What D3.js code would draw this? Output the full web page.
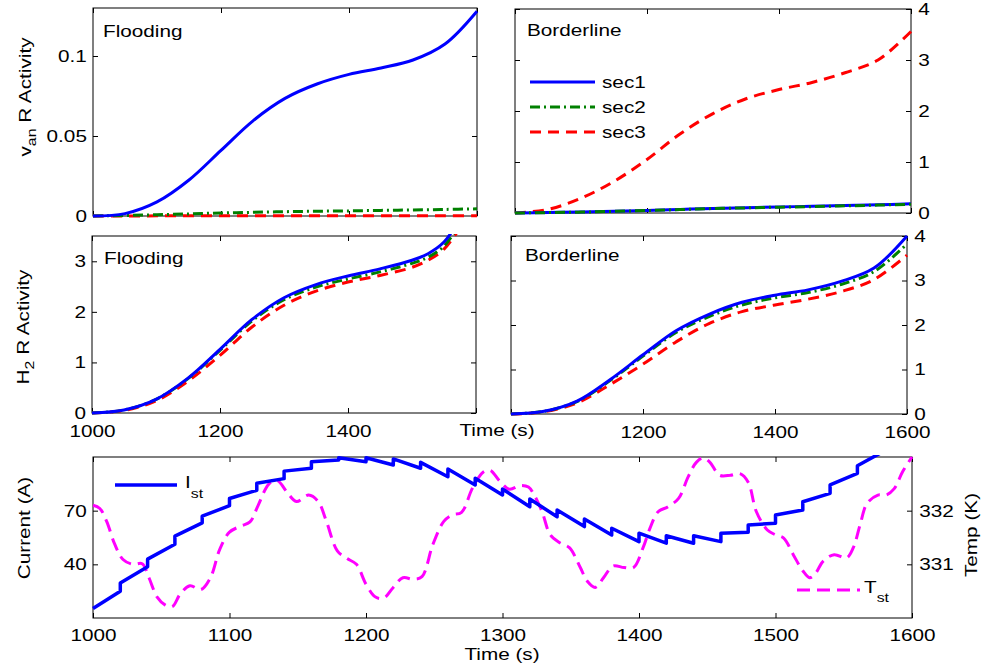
<!DOCTYPE html>
<html>
<head>
<meta charset="utf-8">
<script src="https://cdn.jsdelivr.net/npm/d3@7"></script>
<style>
  body { margin: 0; background: #fff; }
  svg text { font-family: "Liberation Sans", Arial, Helvetica, sans-serif; fill: #000; }
</style>
</head>
<body>
<svg id="chart" width="988" height="670"></svg>
<script>
// ---------- data ----------
// receptor activity, sampled every 50 s
const actTime = [1000, 1050, 1100, 1150, 1200, 1250, 1300, 1350, 1400, 1450, 1500, 1550, 1600];

// vanR activity, flooding
const floodVanSec1 = [0, 0.0015, 0.0088, 0.0225, 0.041, 0.0595, 0.0735, 0.0825, 0.0885, 0.0925, 0.0975, 0.1075, 0.128];
const floodVanSec2 = [0, 0.0003, 0.0008, 0.0013, 0.0019, 0.0023, 0.0027, 0.0030, 0.0032, 0.0035, 0.0038, 0.0041, 0.0045];
const floodVanSec3 = [0, 0, 0.0001, 0.0001, 0.0001, 0.0001, 0.0002, 0.0002, 0.0002, 0.0002, 0.0002, 0.0002, 0.0002];

// vanR activity, borderline
const borderVanSec1 = [0, 0.01, 0.02, 0.035, 0.05, 0.07, 0.09, 0.105, 0.12, 0.13, 0.145, 0.16, 0.18];
const borderVanSec2 = [0, 0.008, 0.018, 0.032, 0.048, 0.067, 0.087, 0.10, 0.115, 0.125, 0.14, 0.155, 0.17];
const borderVanSec3 = [0, 0.07, 0.29, 0.62, 1.05, 1.55, 1.95, 2.24, 2.42, 2.56, 2.75, 3.0, 3.56];

// H2R activity, flooding (run ends past the top of the axis)
const floodH2Time = [1000, 1050, 1100, 1150, 1200, 1250, 1300, 1350, 1400, 1450, 1500, 1525, 1550, 1575];
const floodH2Sec1 = [0, 0.06, 0.27, 0.69, 1.26, 1.85, 2.28, 2.54, 2.71, 2.85, 3.02, 3.15, 3.38, 3.85];
const floodH2Sec2 = [0, 0.06, 0.27, 0.68, 1.24, 1.82, 2.24, 2.49, 2.65, 2.79, 2.96, 3.08, 3.30, 3.75];
const floodH2Sec3 = [0, 0.05, 0.24, 0.63, 1.14, 1.70, 2.13, 2.41, 2.59, 2.72, 2.88, 3.02, 3.24, 3.66];

// H2R activity, borderline
const borderH2Sec1 = [0, 0.06, 0.29, 0.77, 1.33, 1.87, 2.24, 2.51, 2.67, 2.79, 2.98, 3.28, 4.0];
const borderH2Sec2 = [0, 0.06, 0.28, 0.75, 1.30, 1.83, 2.19, 2.45, 2.61, 2.73, 2.91, 3.20, 3.82];
const borderH2Sec3 = [0, 0.05, 0.25, 0.66, 1.12, 1.62, 2.03, 2.30, 2.45, 2.58, 2.75, 3.02, 3.57];

const seriesNames = ["sec1", "sec2", "sec3"];

// stack current: one linear segment per 20 s control step
const stepTime = [1000, 1020, 1040, 1060, 1080, 1100, 1120, 1140, 1160, 1180, 1200, 1220, 1240, 1260, 1280,
                  1300, 1320, 1340, 1360, 1380, 1400, 1420, 1440, 1460, 1480, 1500, 1520, 1540, 1560, 1580];
const istStart = [15.3, 29.5, 42.9, 55.8, 66.9, 76.8, 85.3, 92.1, 97.4, 99.6, 99.6, 98.9, 97.0, 93.3, 88.1,
                  82.1, 76.5, 70.4, 65.4, 60.2, 57.4, 56.0, 56.0, 57.4, 62.0, 67.6, 75.0, 84.4, 95.1];
const istEnd   = [24.9, 38.7, 51.2, 63.2, 72.8, 81.4, 87.9, 93.7, 98.3, 97.4, 95.5, 93.7, 89.0, 84.4, 78.8,
                  72.2, 66.6, 61.1, 56.4, 52.7, 51.8, 51.8, 52.7, 58.0, 63.0, 70.4, 79.7, 90.9, 103.5];

// stack temperature
const tempTime = [1000, 1005, 1010, 1016, 1022, 1029, 1036, 1041, 1047, 1053, 1058, 1064, 1071, 1079, 1086,
                  1093, 1100, 1108, 1115, 1121, 1129, 1135, 1142, 1149, 1158, 1165, 1171, 1179, 1186, 1193,
                  1200, 1207, 1213, 1220, 1227, 1235, 1241, 1249, 1257, 1263, 1270, 1278, 1286, 1291, 1298,
                  1305, 1313, 1319, 1323, 1329, 1335, 1342, 1349, 1357, 1362, 1368, 1374, 1381, 1389, 1396,
                  1403, 1408, 1414, 1421, 1429, 1436, 1442, 1447, 1452, 1459, 1467, 1474, 1480, 1486, 1494,
                  1500, 1506, 1513, 1520, 1525, 1529, 1535, 1543, 1552, 1557, 1562, 1567, 1575, 1581, 1587,
                  1593, 1600];
const tempK = [332.10, 332.04, 331.80, 331.37, 331.09, 331.00, 331.01, 330.75, 330.39, 330.24, 330.21, 330.45, 330.60, 330.53, 330.75,
               331.29, 331.60, 331.71, 331.79, 332.10, 332.50, 332.56, 332.35, 332.17, 332.29, 332.17, 331.80, 331.25, 331.11, 331.00,
               330.63, 330.39, 330.37, 330.57, 330.75, 330.72, 330.77, 331.37, 331.80, 331.92, 331.97, 332.42, 332.72, 332.75, 332.55,
               332.40, 332.47, 332.44, 332.30, 331.98, 331.55, 331.40, 331.31, 330.94, 330.69, 330.57, 330.75, 330.97, 330.94, 330.94,
               331.31, 331.67, 331.98, 332.07, 332.23, 332.63, 332.90, 332.98, 332.90, 332.66, 332.66, 332.69, 332.53, 331.98, 331.64,
               331.55, 331.49, 331.18, 330.88, 330.75, 330.82, 331.06, 331.18, 331.12, 331.31, 331.74, 332.13, 332.29, 332.29, 332.41,
               332.72, 333.0];

// tick values
const timeTicks200 = [1000, 1200, 1400, 1600];
const timeTicks100 = [1000, 1100, 1200, 1300, 1400, 1500, 1600];
const vanTicks = [0, 0.05, 0.1];
const actTicks3 = [0, 1, 2, 3];
const actTicks4 = [0, 1, 2, 3, 4];
const currentTicks = [40, 70];
const tempTicks = [331, 332];

// ---------- drawing ----------
const svg = d3.select("#chart");
const FS = 17;          // font size
const SX = 1.22;        // horizontal glyph stretch
const TICK = 5;
const smooth = d3.curveCatmullRom.alpha(0.5);

const styles = {
  sec1: { color: "#0000ff", dash: null },
  sec2: { color: "#008000", dash: "10,4,2,4" },
  sec3: { color: "#ff0000", dash: "11,7" }
};

let clipId = 0;
function makePanel(box, xDomain, yDomain) {
  const x = d3.scaleLinear().domain(xDomain).range([box.left, box.right]);
  const y = d3.scaleLinear().domain(yDomain).range([box.bottom, box.top]);
  const g = svg.append("g");
  const id = "clip" + (clipId++);
  svg.append("clipPath").attr("id", id).append("rect")
    .attr("x", box.left - 2).attr("y", box.top - 2)
    .attr("width", box.right - box.left + 4).attr("height", box.bottom - box.top + 4);
  g.append("rect")
    .attr("x", box.left).attr("y", box.top)
    .attr("width", box.right - box.left).attr("height", box.bottom - box.top)
    .attr("fill", "none").attr("stroke", "#000").attr("stroke-width", 1);
  const plot = svg.append("g").attr("clip-path", `url(#${id})`);
  return { x, y, g, plot, box };
}

function styleAxis(sel) {
  sel.select(".domain").remove();
  sel.selectAll(".tick line").attr("stroke", "#000");
  sel.attr("font-size", FS).attr("font-family", null);
  sel.selectAll(".tick text").attr("transform", `scale(${SX},1)`);
}

// axes on all four sides; labels only where requested
function drawAxes(p, opt) {
  const b = p.box;
  const xb = d3.axisBottom(p.x).tickValues(opt.xTicks).tickSize(-TICK).tickSizeOuter(0).tickPadding(opt.xPad || 12)
    .tickFormat(d => (opt.xLabels && opt.xLabels.includes(d)) ? String(d) : "");
  p.g.append("g").attr("transform", `translate(0,${b.bottom})`).call(xb).call(styleAxis);
  const xt = d3.axisTop(p.x).tickValues(opt.xTicks).tickSize(-TICK).tickSizeOuter(0).tickFormat("");
  p.g.append("g").attr("transform", `translate(0,${b.top})`).call(xt).call(styleAxis);

  const yl = d3.axisLeft(opt.yLeftScale || p.y).tickValues(opt.yLeftTicks).tickSize(-TICK).tickSizeOuter(0).tickPadding(5)
    .tickFormat(opt.yLeftLabels ? (opt.yLeftFormat || (d => String(d))) : "");
  p.g.append("g").attr("transform", `translate(${b.left},0)`).call(yl).call(styleAxis);
  const yr = d3.axisRight(opt.yRightScale || p.y).tickValues(opt.yRightTicks).tickSize(-TICK).tickSizeOuter(0).tickPadding(6)
    .tickFormat(opt.yRightLabels ? (d => String(d)) : "");
  p.g.append("g").attr("transform", `translate(${b.right},0)`).call(yr).call(styleAxis);
}

function drawSeries(p, times, values, name) {
  const st = styles[name];
  const pts = times.map((t, i) => [t, values[i]]);
  p.plot.append("path")
    .datum(pts)
    .attr("fill", "none")
    .attr("stroke", st.color)
    .attr("stroke-width", 3)
    .attr("stroke-dasharray", st.dash)
    .attr("d", d3.line().x(d => p.x(d[0])).y(d => p.y(d[1])).curve(smooth));
}

function label(x, y, str, opts = {}) {
  const t = svg.append("text")
    .attr("transform", `translate(${x},${y})${opts.rotate ? " rotate(-90)" : ""} scale(${SX},1)`)
    .attr("font-size", opts.size || FS)
    .attr("text-anchor", opts.anchor || "start");
  if (opts.parts) {
    opts.parts.forEach(pt => {
      t.append("tspan").text(pt.text)
        .attr("font-size", pt.size || opts.size || FS)
        .attr("dy", pt.dy || 0);
    });
  } else {
    t.text(str);
  }
  return t;
}

const fmtVan = d => d === 0 ? "0" : String(d);

// --- top left: vanR, flooding
const pTL = makePanel({ left: 93, right: 477, top: 8, bottom: 216 }, [1000, 1600], [0, 0.13]);
drawAxes(pTL, { xTicks: timeTicks200, yLeftTicks: vanTicks, yLeftLabels: true, yLeftFormat: fmtVan, yRightTicks: vanTicks });
drawSeries(pTL, actTime, floodVanSec3, "sec3");
drawSeries(pTL, actTime, floodVanSec2, "sec2");
drawSeries(pTL, actTime, floodVanSec1, "sec1");
label(103, 37, "Flooding");

// --- top right: vanR, borderline
const pTR = makePanel({ left: 515, right: 911, top: 9, bottom: 213 }, [1000, 1600], [0, 4]);
drawAxes(pTR, { xTicks: timeTicks200, yLeftTicks: actTicks4, yRightTicks: actTicks4, yRightLabels: true });
drawSeries(pTR, actTime, borderVanSec3, "sec3");
drawSeries(pTR, actTime, borderVanSec1, "sec1");
drawSeries(pTR, actTime, borderVanSec2, "sec2");
label(527, 36, "Borderline");

// legend
const legRows = [82, 107, 132];
seriesNames.forEach((n, i) => {
  const st = styles[n];
  svg.append("line").attr("x1", 530).attr("x2", 595).attr("y1", legRows[i]).attr("y2", legRows[i])
    .attr("stroke", st.color).attr("stroke-width", 3).attr("stroke-dasharray", st.dash);
  label(602, legRows[i] + 6, n);
});

// --- middle left: H2R, flooding
const pML = makePanel({ left: 92, right: 476, top: 236, bottom: 413 }, [1000, 1600], [0, 3.5]);
drawAxes(pML, { xTicks: timeTicks200, xLabels: [1000, 1200, 1400], yLeftTicks: actTicks3, yLeftLabels: true, yRightTicks: actTicks3 });
drawSeries(pML, floodH2Time, floodH2Sec3, "sec3");
drawSeries(pML, floodH2Time, floodH2Sec2, "sec2");
drawSeries(pML, floodH2Time, floodH2Sec1, "sec1");
label(104, 264, "Flooding");

// --- middle right: H2R, borderline
const pMR = makePanel({ left: 511, right: 907, top: 236, bottom: 414 }, [1000, 1600], [0, 4]);
drawAxes(pMR, { xTicks: timeTicks200, xLabels: [1200, 1400, 1600], yLeftTicks: actTicks4, yRightTicks: actTicks4, yRightLabels: true });
drawSeries(pMR, actTime, borderH2Sec3, "sec3");
drawSeries(pMR, actTime, borderH2Sec2, "sec2");
drawSeries(pMR, actTime, borderH2Sec1, "sec1");
label(525, 261, "Borderline");

label(497, 436, "Time (s)", { anchor: "middle" });

// --- bottom: stack current and temperature
const pB = makePanel({ left: 93, right: 912, top: 457, bottom: 618 }, [1000, 1600], [10, 100]);
const yTemp = d3.scaleLinear().domain([330, 333]).range([618, 457]);
drawAxes(pB, { xTicks: timeTicks100, xLabels: timeTicks100, xPad: 11,
  yLeftTicks: currentTicks, yLeftLabels: true,
  yRightScale: yTemp, yRightTicks: tempTicks, yRightLabels: true });

const tempPts = tempTime.map((t, i) => [t, tempK[i]]);
pB.plot.append("path").datum(tempPts)
  .attr("fill", "none").attr("stroke", "#ff00ff").attr("stroke-width", 3)
  .attr("stroke-dasharray", "13,7")
  .attr("d", d3.line().x(d => pB.x(d[0])).y(d => yTemp(d[1])).curve(smooth));

const istPts = [];
istStart.forEach((v, i) => {
  istPts.push([stepTime[i], v]);
  istPts.push([stepTime[i + 1], istEnd[i]]);
});
pB.plot.append("path").datum(istPts)
  .attr("fill", "none").attr("stroke", "#0000ff").attr("stroke-width", 3.5)
  .attr("stroke-linejoin", "round")
  .attr("d", d3.line().x(d => pB.x(d[0])).y(d => pB.y(d[1])));

// legends of the bottom panel
svg.append("line").attr("x1", 115).attr("x2", 177).attr("y1", 485).attr("y2", 485)
  .attr("stroke", "#0000ff").attr("stroke-width", 3.5);
label(185, 488, null, { parts: [{ text: "I" }, { text: "st", size: 13, dy: 10 }] });
svg.append("line").attr("x1", 797).attr("x2", 860).attr("y1", 590).attr("y2", 590)
  .attr("stroke", "#ff00ff").attr("stroke-width", 3).attr("stroke-dasharray", "13,7");
label(864, 593, null, { parts: [{ text: "T" }, { text: "st", size: 13, dy: 9 }] });

label(502, 660, "Time (s)", { anchor: "middle" });

// y-axis titles
label(31, 97, null, { rotate: true, anchor: "middle",
  parts: [{ text: "v" }, { text: "an", size: 13, dy: 5 }, { text: " R Activity", dy: -5 }] });
label(29, 327, null, { rotate: true, anchor: "middle",
  parts: [{ text: "H" }, { text: "2", size: 13, dy: 5 }, { text: " R Activity", dy: -5 }] });
label(30, 528, "Current (A)", { rotate: true, anchor: "middle" });
label(977, 535, "Temp (K)", { rotate: true, anchor: "middle" });
</script>
</body>
</html>
